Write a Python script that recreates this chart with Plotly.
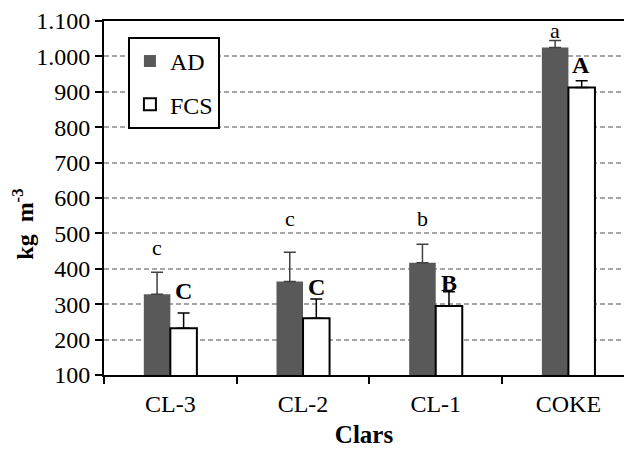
import plotly.graph_objects as go

categories = ["CL-3", "CL-2", "CL-1", "COKE"]
ad_values = [328, 364, 417, 1025]
ad_errors = [62, 83, 52, 20]
fcs_values = [232, 260, 295, 912]
fcs_errors = [43, 55, 40, 19]
ad_letters = ["c", "c", "b", "a"]
ad_letter_y = [459, 541, 541, 1074]
fcs_letters = ["C", "C", "B", "A"]
fcs_letter_y = [337, 349, 360, 976]
y_tickvals = [100, 200, 300, 400, 500, 600, 700, 800, 900, 1000, 1100]
y_ticktext = ["100", "200", "300", "400", "500", "600", "700", "800", "900", "1.000", "1.100"]

FONT = '"Liberation Serif", "Times New Roman", Times, serif'

fig = go.Figure()
fig.add_trace(go.Bar(
    name="AD", x=categories, y=ad_values,
    marker=dict(color="#595959", line=dict(width=0)),
    error_y=dict(type="data", array=ad_errors, arrayminus=[0] * len(ad_errors),
                 symmetric=False, color="#404040", thickness=1.5, width=6),
    legendgroup="ad",
))
fig.add_trace(go.Bar(
    name="FCS", x=categories, y=fcs_values,
    marker=dict(color="white", line=dict(color="black", width=2)),
    error_y=dict(type="data", array=fcs_errors, arrayminus=[0] * len(fcs_errors),
                 symmetric=False, color="black", thickness=1.5, width=6),
    legendgroup="fcs",
))

annotations = []
for c, t, y in zip(categories, ad_letters, ad_letter_y):
    annotations.append(dict(x=c, y=y, xref="x", yref="y", text=t, showarrow=False,
                            xshift=-13, font=dict(family=FONT, size=22, color="black")))
for c, t, y in zip(categories, fcs_letters, fcs_letter_y):
    annotations.append(dict(x=c, y=y, xref="x", yref="y", text="<b>" + t + "</b>", showarrow=False,
                            xshift=13, font=dict(family=FONT, size=24, color="black")))
annotations.append(dict(x=-0.156, y=0.427, xref="paper", yref="paper",
                        xanchor="center", yanchor="middle",
                        text="<b>kg  m<sup>-3</sup></b>", textangle=-90, showarrow=False,
                        font=dict(family=FONT, size=24, color="black")))

fig.update_layout(
    width=624, height=451,
    margin=dict(l=104, r=0, t=21, b=76),
    paper_bgcolor="white", plot_bgcolor="white",
    font=dict(family=FONT, size=24, color="black"),
    barmode="group", bargap=0.6, bargroupgap=0,
    showlegend=True,
    legend=dict(x=0.046, y=0.955, xanchor="left", yanchor="top",
                bgcolor="white", bordercolor="black", borderwidth=2,
                traceorder="grouped", tracegroupgap=9, itemwidth=30,
                font=dict(family=FONT, size=24, color="black")),
    annotations=annotations,
    xaxis=dict(type="category", range=[-0.5, 3.419], tickson="boundaries",
               ticks="outside", ticklen=7, tickwidth=1.5, tickcolor="black",
               showline=True, linecolor="black", linewidth=2, mirror=True,
               showgrid=False, ticklabelstandoff=6,
               tickfont=dict(family=FONT, size=24, color="black"),
               title=dict(text="<b>Clars</b>", standoff=10,
                          font=dict(family=FONT, size=25, color="black"))),
    yaxis=dict(range=[100, 1100], tickvals=y_tickvals, ticktext=y_ticktext,
               ticks="outside", ticklen=7, tickwidth=1.5, tickcolor="black",
               showline=True, linecolor="black", linewidth=2,
               showgrid=True, gridcolor="#a6a6a6", gridwidth=1.5, griddash="5px,3px",
               zeroline=False,
               tickfont=dict(family=FONT, size=24, color="black")),
)

fig.write_html("out.html")
